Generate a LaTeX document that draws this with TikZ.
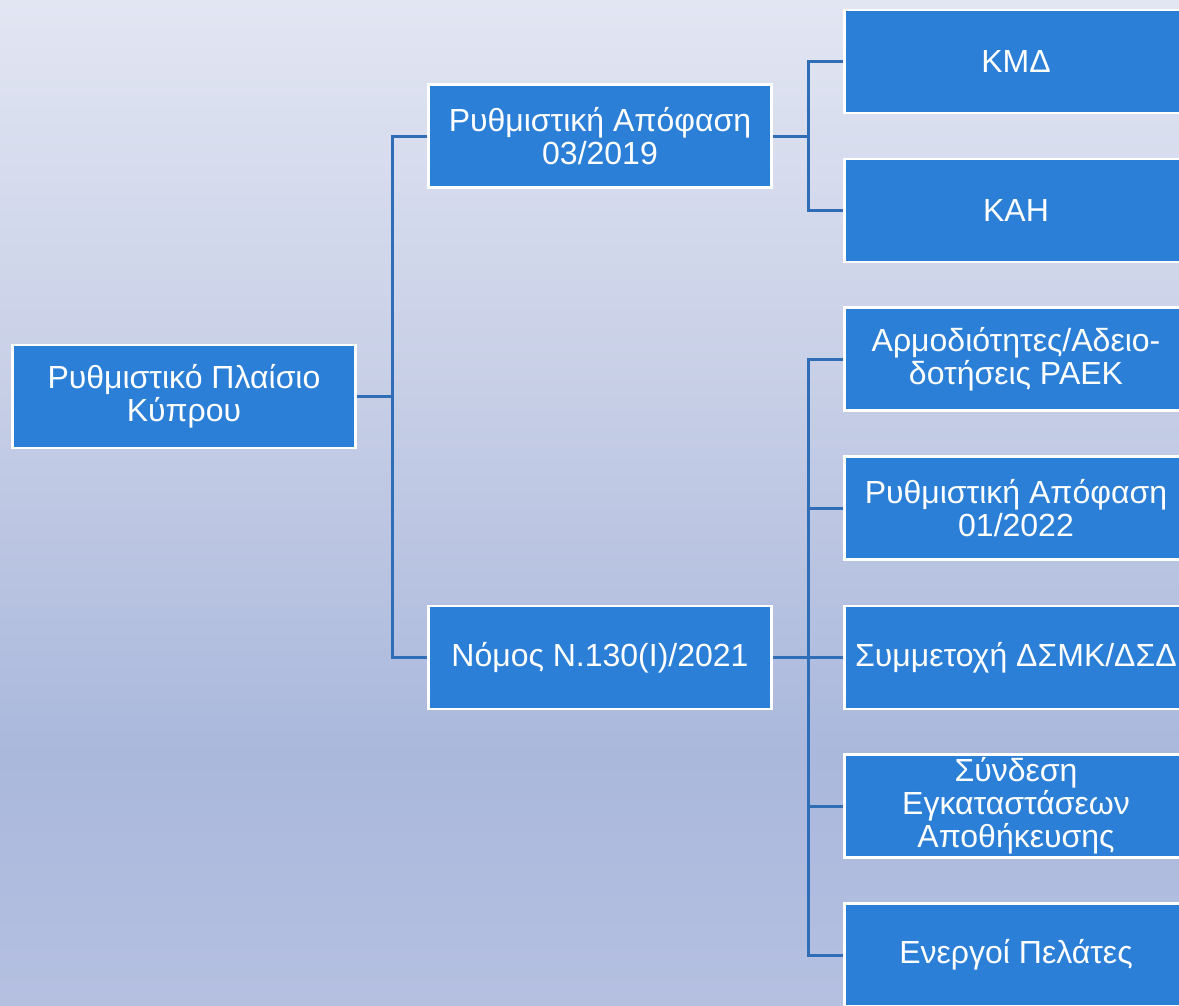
\documentclass[tikz,border=0pt]{standalone}
\usepackage{fontspec}
\setmainfont{Liberation Sans}
\definecolor{boxblue}{HTML}{2B7FD7}
\definecolor{lineblue}{HTML}{2F6DB7}
\definecolor{bgtop}{HTML}{E2E6F3}
\definecolor{bgmid}{HTML}{C6CEE6}
\definecolor{bglow}{HTML}{AAB8DC}
\definecolor{bgbot}{HTML}{B5C0E1}
\pgfdeclareverticalshading{bgshade}{100bp}{color(0bp)=(bgbot); color(25bp)=(bgbot); color(37.5bp)=(bglow); color(55bp)=(bgmid); color(75bp)=(bgtop); color(100bp)=(bgtop)}
\begin{document}
\begin{tikzpicture}[x=1pt,y=-1pt,
  box/.style={rectangle, fill=boxblue, draw=white, line width=2.5pt,
    minimum width=343pt, minimum height=103pt, inner sep=0pt,
    text=white, align=center, font=\fontsize{32}{33}\selectfont},
  conn/.style={draw=lineblue, line width=3pt}]
\useasboundingbox (0,0) rectangle (1179,1005);
\shade[shading=bgshade] (0,0) rectangle (1179,1005);

\node[box] (root) at (184,396.5) {Ρυθμιστικό Πλαίσιο\\Κύπρου};
\node[box] (r1) at (600,136) {Ρυθμιστική Απόφαση\\03/2019};
\node[box] (r2) at (600,657.5) {Νόμος Ν.130(Ι)/2021};

\node[box] (k1) at (1016,61.5) {ΚΜΔ};
\node[box] (k2) at (1016,210.5) {ΚΑΗ};
\node[box] (n1) at (1016,359) {Αρμοδιότητες/Αδειο-\\δοτήσεις ΡΑΕΚ};
\node[box] (n2) at (1016,508) {Ρυθμιστική Απόφαση\\01/2022};
\node[box] (n3) at (1016,657.5) {Συμμετοχή ΔΣΜΚ/ΔΣΔ};
\node[box] (n4) at (1016,806) {Σύνδεση\\Εγκαταστάσεων\\Αποθήκευσης};
\node[box] (n5) at (1016,955) {Ενεργοί Πελάτες};

\coordinate (j1) at (392,396.5);
\coordinate (j2) at (808,136);
\coordinate (j3) at (808,657.5);

\draw[conn] (root.east) -- (j1);
\draw[conn] (r1.west) -- (r1.west -| j1) -- (r2.west -| j1) -- (r2.west);

\draw[conn] (r1.east) -- (j2);
\draw[conn] (k1.west) -- (k1.west -| j2) -- (k2.west -| j2) -- (k2.west);

\draw[conn] (r2.east) -- (j3);
\draw[conn] (n1.west) -- (n1.west -| j3) -- (n5.west -| j3) -- (n5.west);
\draw[conn] (n2.west -| j3) -- (n2.west);
\draw[conn] (n3.west -| j3) -- (n3.west);
\draw[conn] (n4.west -| j3) -- (n4.west);
\end{tikzpicture}
\end{document}
